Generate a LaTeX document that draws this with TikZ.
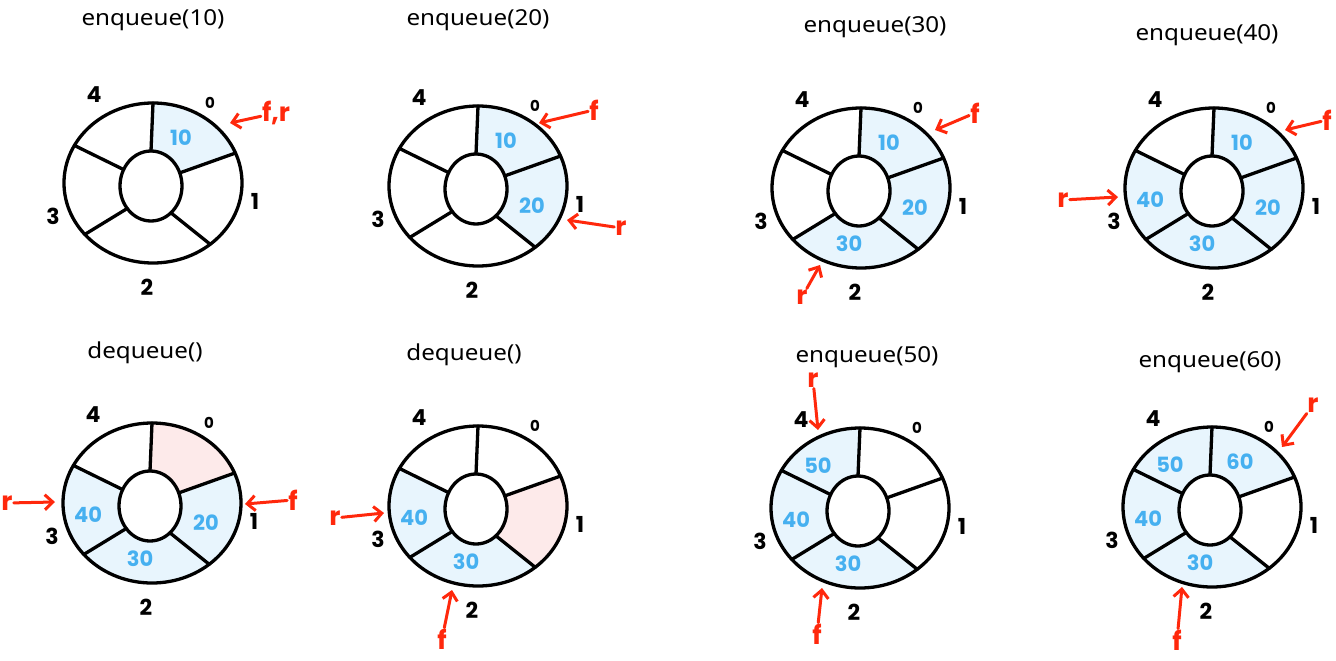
\documentclass[tikz,border=0pt]{standalone}
\usepackage{fontspec}
\setmainfont{Noto Sans}
\newfontfamily\titlefont{Noto Sans}[FakeStretch=1.1]
\newfontfamily\hand{Poppins}
\usepackage{tikz}
\usetikzlibrary{arrows.meta}

\definecolor{cellblue}{RGB}{232,245,253}
\definecolor{cellpink}{RGB}{253,234,234}
\definecolor{valblue}{RGB}{70,176,240}
\definecolor{ptrred}{RGB}{255,40,12}

% one cell of the ring: index, colour
\newcommand{\qcell}[2]{%
  \pgfmathsetmacro\qta{{-90,-22,50,140,208,270}[#1]}%
  \pgfmathsetmacro\qtb{{-90,-22,50,140,208,270}[#1+1]}%
  \fill[#2] plot[domain=\qta:\qtb,samples=24] ({89*cos(\x)},{80*sin(\x)})
    -- plot[domain=\qtb:\qta,samples=24] ({-2+31*cos(\x)},{3+35*sin(\x)}) -- cycle;}

% ring outline with the five indices
\newcommand{\qring}{%
  \draw[ringline] (0,0) ellipse[x radius=89,y radius=80];
  \draw[ringline] (-2,3) ellipse[x radius=31,y radius=35];
  \foreach \t in {-90,-22,50,140,208}
    \draw[ringline] ({-2+31*cos(\t)},{3+35*sin(\t)}) -- ({89*cos(\t)},{80*sin(\t)});
  \node[idx,font=\hand\bfseries\fontsize{15}{16}\selectfont] (i0) at (57,-80) {0};
  \node[idx] (i1) at (102,18) {1};
  \node[idx] (i2) at (-6,104) {2};
  \node[idx] (i3) at (-100,33) {3};
  \node[idx] (i4) at (-59,-88) {4};}

\begin{document}
\begin{tikzpicture}[
  x=1pt,y=-1pt,
  ringline/.style={line width=3.3pt,line cap=round,line join=round},
  title/.style={font=\titlefont\fontsize{22}{25}\selectfont},
  idx/.style={font=\hand\bfseries\fontsize{22}{24}\selectfont},
  val/.style={text=valblue,font=\hand\bfseries\fontsize{21}{23}\selectfont},
  ptrlab/.style={text=ptrred,font=\hand\bfseries\fontsize{26}{28}\selectfont,inner sep=1pt},
  ptr/.style={ptrred,line width=3pt,line cap=round,
    -{Straight Barb[length=8pt,width=15pt]}}
]
  \useasboundingbox (0,0) rectangle (1336,661);

  % enqueue(10)
  \begin{scope}[shift={(153,183)},name prefix=p1-]
    \qcell{0}{cellblue}
    \qring
    \node[title] (t) at (0,-163) {enqueue(10)};
    \node[val] (v0) at (28,-45) {10};
    \node[ptrlab] (fr) at (123,-70) {f,r};
    \coordinate (frtip) at (77,-60);
    \draw[ptr] (fr) -- (frtip);
  \end{scope}

  % enqueue(20)
  \begin{scope}[shift={(478,186)},name prefix=p2-]
    \qcell{0}{cellblue}
    \qcell{1}{cellblue}
    \qring
    \node[title] (t) at (0,-166) {enqueue(20)};
    \node[val] (v0) at (28,-45) {10};
    \node[val] (v1) at (54,20) {20};
    \node[ptrlab] (f) at (116,-76) {f};
    \coordinate (ftip) at (61,-63);
    \draw[ptr] (f) -- (ftip);
    \node[ptrlab] (r) at (143,42) {r};
    \coordinate (rtip) at (89,34);
    \draw[ptr] (r) -- (rtip);
  \end{scope}

  % enqueue(30)
  \begin{scope}[shift={(861,188)},name prefix=p3-]
    \qcell{0}{cellblue}
    \qcell{1}{cellblue}
    \qcell{2}{cellblue}
    \qring
    \node[title] (t) at (14,-161) {enqueue(30)};
    \node[val] (v0) at (28,-45) {10};
    \node[val] (v1) at (54,20) {20};
    \node[val] (v2) at (-12,56) {30};
    \node[ptrlab] (f) at (114,-75) {f};
    \coordinate (ftip) at (74,-58);
    \draw[ptr] (f) -- (ftip);
    \node[ptrlab] (r) at (-59,109) {r};
    \coordinate (rtip) at (-41,77);
    \draw[ptr] (r) -- (rtip);
  \end{scope}

  % enqueue(40)
  \begin{scope}[shift={(1214,188)},name prefix=p4-]
    \foreach \k in {0,...,3} {\qcell{\k}{cellblue}}
    \qring
    \node[title] (t) at (-7,-153) {enqueue(40)};
    \node[val] (v0) at (28,-45) {10};
    \node[val] (v1) at (54,20) {20};
    \node[val] (v2) at (-12,56) {30};
    \node[val] (v3) at (-64,12) {40};
    \node[ptrlab] (f) at (113,-68) {f};
    \coordinate (ftip) at (71,-58);
    \draw[ptr] (f) -- (ftip);
    \node[ptrlab] (r) at (-151,12) {r};
    \coordinate (rtip) at (-96,9);
    \draw[ptr] (r) -- (rtip);
  \end{scope}

  % dequeue()
  \begin{scope}[shift={(152,503)},name prefix=p5-]
    \qcell{0}{cellpink}
    \foreach \k in {1,2,3} {\qcell{\k}{cellblue}}
    \qring
    \node[title] (t) at (-7,-150) {dequeue()};
    \node[val] (v1) at (54,20) {20};
    \node[val] (v2) at (-12,56) {30};
    \node[val] (v3) at (-64,12) {40};
    \node[ptrlab] (f) at (141,-3) {f};
    \coordinate (ftip) at (93,1);
    \draw[ptr] (f) -- (ftip);
    \node[ptrlab] (r) at (-145,0) {r};
    \coordinate (rtip) at (-97,-1);
    \draw[ptr] (r) -- (rtip);
  \end{scope}

  % dequeue()
  \begin{scope}[shift={(478,506)},name prefix=p6-]
    \qcell{1}{cellpink}
    \qcell{2}{cellblue}
    \qcell{3}{cellblue}
    \qring
    \node[title] (t) at (-14,-151) {dequeue()};
    \node[val] (v2) at (-12,56) {30};
    \node[val] (v3) at (-64,12) {40};
    \node[ptrlab] (f) at (-36,133) {f};
    \coordinate (ftip) at (-26,84);
    \draw[ptr] (f) -- (ftip);
    \node[ptrlab] (r) at (-143,12) {r};
    \coordinate (rtip) at (-94,7);
    \draw[ptr] (r) -- (rtip);
  \end{scope}

  % enqueue(50)
  \begin{scope}[shift={(860,508)},name prefix=p7-]
    \foreach \k in {2,3,4} {\qcell{\k}{cellblue}}
    \qring
    \node[title] (t) at (7,-151) {enqueue(50)};
    \node[val] (v2) at (-12,56) {30};
    \node[val] (v3) at (-64,12) {40};
    \node[val] (v4) at (-42,-42) {50};
    \node[ptrlab] (f) at (-43,126) {f};
    \coordinate (ftip) at (-38,80);
    \draw[ptr] (f) -- (ftip);
    \node[ptrlab] (r) at (-47,-128) {r};
    \coordinate (rtip) at (-42,-78);
    \draw[ptr] (r) -- (rtip);
  \end{scope}

  % enqueue(60)
  \begin{scope}[shift={(1212,507)},name prefix=p8-]
    \foreach \k in {0,2,3,4} {\qcell{\k}{cellblue}}
    \qring
    \node[title] (t) at (-2,-145) {enqueue(60)};
    \node[val] (v0) at (28,-45) {60};
    \node[val] (v2) at (-12,56) {30};
    \node[val] (v3) at (-64,12) {40};
    \node[val] (v4) at (-42,-42) {50};
    \node[ptrlab] (f) at (-35,133) {f};
    \coordinate (ftip) at (-30,80);
    \draw[ptr] (f) -- (ftip);
    \node[ptrlab] (r) at (101,-102) {r};
    \coordinate (rtip) at (70,-60);
    \draw[ptr] (r) -- (rtip);
  \end{scope}
\end{tikzpicture}
\end{document}
